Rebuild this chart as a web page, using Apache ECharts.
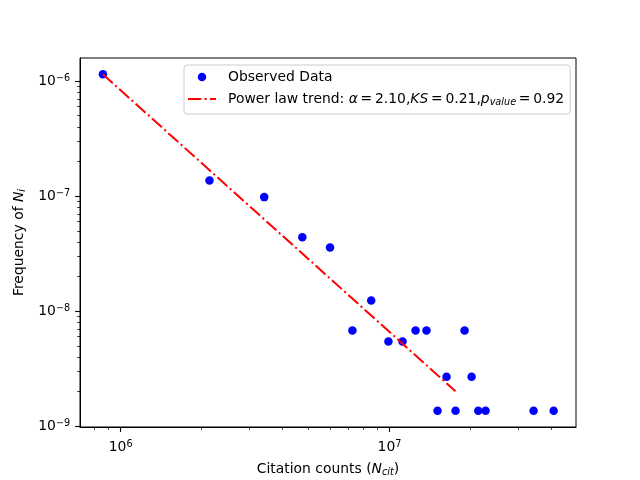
<!DOCTYPE html>
<html lang="en">
<head>
<meta charset="UTF-8">
<title>Citation counts - power law</title>
<style>
    html, body {margin: 0; padding: 0; background: #fff;}
    #chart {width: 640px; height: 480px;}
</style>
</head>
<body>
<div id="chart"></div>
<script src="https://cdn.jsdelivr.net/npm/echarts@6.0.0/dist/echarts.min.js"></script>
<script>
// observed points
var citations = [8.59e5, 2.14e6, 3.42e6, 4.74e6, 6.01e6, 7.28e6, 8.55e6, 9.91e6, 1.118e7, 1.25e7,
                 1.373e7, 1.509e7, 1.63e7, 1.761e7, 1.902e7, 2.02e7, 2.139e7, 2.277e7, 3.436e7, 4.08e7];
var frequency = [1.143e-6, 1.369e-7, 9.8e-8, 4.40e-8, 3.58e-8, 6.79e-9, 1.239e-8, 5.45e-9, 5.45e-9, 6.79e-9,
                 6.79e-9, 1.368e-9, 2.70e-9, 1.368e-9, 6.79e-9, 2.70e-9, 1.368e-9, 1.368e-9, 1.368e-9, 1.368e-9];

// fitted trend line (end points)
var trendX = [8.59e5, 1.76e7];
var trendY = [1.143e-6, 2.015e-9];

// axes
var xRange = [7.06e5, 4.94e7];
var yRange = [9.86e-10, 1.585e-6];
var xMajor = [1e6, 1e7];
var xMinor = [8e5, 9e5, 2e6, 3e6, 4e6, 5e6, 6e6, 7e6, 8e6, 9e6, 2e7, 3e7, 4e7];
var yMajor = [1e-9, 1e-8, 1e-7, 1e-6];
var yMinor = [2e-9, 3e-9, 4e-9, 5e-9, 6e-9, 7e-9, 8e-9, 9e-9,
              2e-8, 3e-8, 4e-8, 5e-8, 6e-8, 7e-8, 8e-8, 9e-8,
              2e-7, 3e-7, 4e-7, 5e-7, 6e-7, 7e-7, 8e-7, 9e-7];

var FONT = 'DejaVu Sans';
var THIN = '\u2009';

var powRich = {
    b: {fontFamily: FONT, fontSize: 13.9, color: '#000', lineHeight: 16},
    s: {fontFamily: FONT, fontSize: 9.7, color: '#000', lineHeight: 9.7, verticalAlign: 'top'}
};
function powLabel(v) {
    var e = Math.round(Math.log10(v));
    return '{b|10}{s|' + (e < 0 ? '\u2212' : '') + Math.abs(e) + '}';
}

var nameRich = {
    r: {fontFamily: FONT, fontSize: 13.9, color: '#000', lineHeight: 16},
    i: {fontFamily: FONT, fontSize: 13.9, color: '#000', fontStyle: 'italic', lineHeight: 16},
    sub: {fontFamily: FONT, fontSize: 9.7, color: '#000', fontStyle: 'italic', lineHeight: 9.7, verticalAlign: 'bottom', padding: [3, 0, 0, 0]}
};

function majorAxis(range, ticks, margin, extra) {
    var ax = {
        type: 'log', logBase: 10, min: range[0], max: range[1],
        axisLine: {show: true, lineStyle: {color: '#000', width: 1}},
        axisTick: {show: true, inside: false, length: 4.9, customValues: ticks, lineStyle: {color: '#000', width: 1.1}},
        axisLabel: {show: true, customValues: ticks, margin: margin, formatter: powLabel, rich: powRich},
        splitLine: {show: false},
        minorTick: {show: false}
    };
    for (var k in extra) ax[k] = extra[k];
    return ax;
}
function minorAxis(range, ticks, pos) {
    return {
        type: 'log', logBase: 10, min: range[0], max: range[1], position: pos,
        axisLine: {show: false},
        axisTick: {show: true, inside: false, length: 2.8, customValues: ticks, lineStyle: {color: '#000', width: 0.8}},
        axisLabel: {show: false},
        splitLine: {show: false}
    };
}

var chart = echarts.init(document.getElementById('chart'));
var option = {
    animation: false,
    backgroundColor: '#fff',
    grid: {left: 80, right: 64, top: 58, bottom: 53, outerBoundsMode: 'none', containLabel: false,
           show: true, borderColor: '#000', borderWidth: 1, backgroundColor: 'transparent'},
    legend: {
        orient: 'vertical', left: 184, top: 65,
        data: [
            {name: 'Observed Data', icon: 'circle'},
            {name: 'Power law trend', icon: 'path://M0,0h13.3v2h-13.3z M16.6,0h2.1v2h-2.1z M22,0h6v2h-6z',
             itemStyle: {color: '#ff0000'}}
        ],
        itemWidth: 28, itemHeight: 8.5, itemGap: 8,
        padding: [5, 6, 7, 4],
        backgroundColor: 'rgba(255,255,255,0.8)', borderColor: '#cccccc', borderWidth: 1, borderRadius: 3,
        selectedMode: false,
        textStyle: {fontFamily: FONT, fontSize: 13.9, color: '#000', padding: [0, 0, 0, 7], rich: nameRich},
        formatter: function (name) {
            if (name === 'Power law trend') {
                return '{r|Power law trend: }{i|\u03b1}{r|' + THIN + '=' + THIN + '2.10,}{i|KS}{r|' + THIN + '=' + THIN +
                    '0.21,}{i|p}{sub|value}{r|' + THIN + '=' + THIN + '0.92}';
            }
            return '{r|' + name + '}';
        }
    },
    xAxis: [
        majorAxis(xRange, xMajor, 12, {
            position: 'bottom',
            name: '{r|Citation counts (}{i|N}{sub|cit}{r|)}',
            nameLocation: 'middle', nameGap: 34,
            nameTextStyle: {rich: nameRich}
        }),
        minorAxis(xRange, xMinor, 'bottom')
    ],
    yAxis: [
        majorAxis(yRange, yMajor, 9.8, {
            position: 'left',
            name: '{r|Frequency of }{i|N}{sub|i}',
            nameLocation: 'middle', nameGap: 52, nameRotate: 90,
            nameTextStyle: {rich: nameRich}
        }),
        minorAxis(yRange, yMinor, 'left')
    ],
    series: [
        {
            name: 'Observed Data', type: 'scatter', xAxisIndex: 0, yAxisIndex: 0,
            data: citations.map(function (c, i) { return [c, frequency[i]]; }),
            symbol: 'circle', symbolSize: 8.5,
            itemStyle: {color: '#0000ff', opacity: 1},
            emphasis: {disabled: true}
        },
        {
            name: 'Power law trend', type: 'line', xAxisIndex: 0, yAxisIndex: 0,
            data: trendX.map(function (x, i) { return [x, trendY[i]]; }),
            symbol: 'none',
            lineStyle: {color: '#ff0000', width: 2, type: [13.3, 3.3, 2.1, 3.3]},
            itemStyle: {color: '#ff0000'},
            emphasis: {disabled: true}
        }
    ]
};
chart.setOption(option);
</script>
</body>
</html>
